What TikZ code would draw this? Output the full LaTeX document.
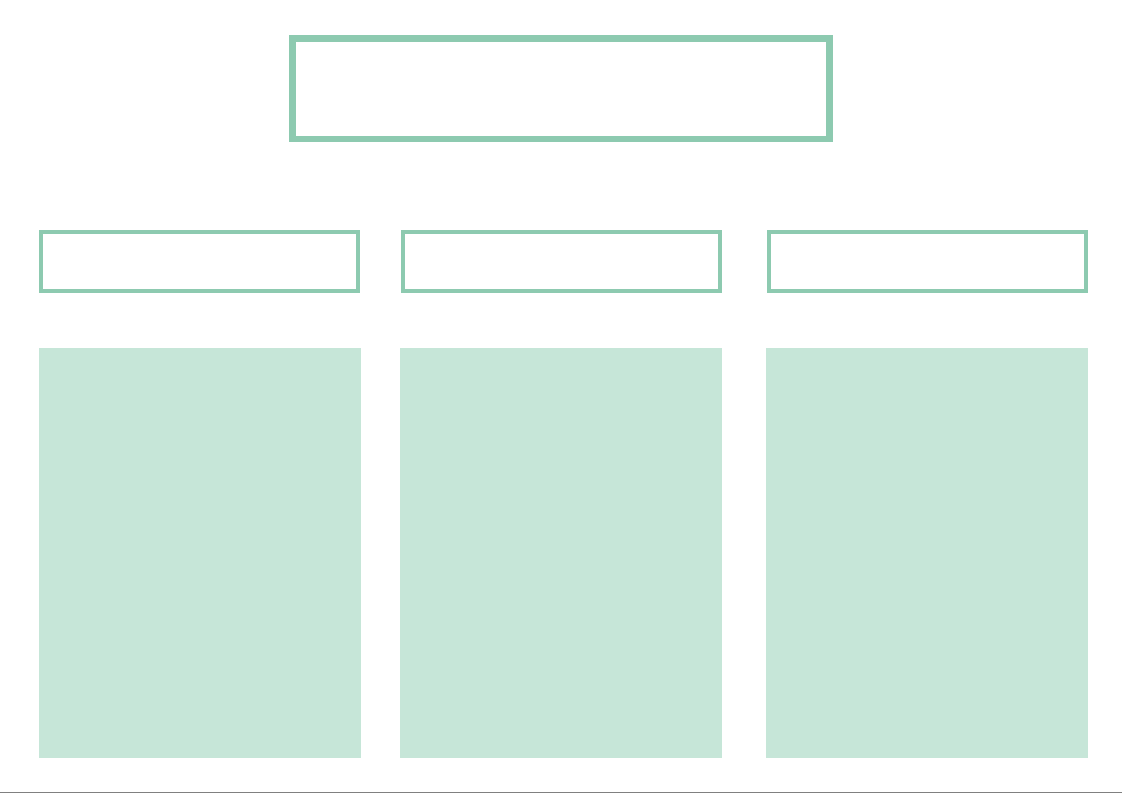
\documentclass[tikz,border=0pt]{standalone}
\usepackage{tikz}
\usetikzlibrary{positioning}
\definecolor{mintline}{HTML}{8DCAB0}
\definecolor{mintfill}{HTML}{C6E6D8}
\tikzset{
  titlebox/.style={draw=mintline,line width=6.5pt,minimum width=537pt,minimum height=100.5pt,inner sep=0pt},
  headbox/.style={draw=mintline,line width=4pt,minimum width=317pt,minimum height=58.5pt,inner sep=0pt},
  panelbox/.style={fill=mintfill,draw=none,minimum width=322pt,minimum height=410pt,inner sep=0pt}
}
\begin{document}
\begin{tikzpicture}[x=1pt,y=-1pt]
		\useasboundingbox (0,0) rectangle (1122,793);
		\node (title) at (561,88.75) [titlebox] {};
		\node (headA) at (199.5,261.25) [headbox] {};
		\node (headB) at (561.75,261.25) [headbox] {};
		\node (headC) at (927.5,261.25) [headbox] {};
		\node (panelA) at (200,553) [panelbox] {};
		\node (panelB) at (561,553) [panelbox] {};
		\node (panelC) at (927.25,553) [panelbox] {};
		\fill [gray] (0,791.5) rectangle (1122,793);
    \end{tikzpicture}
\end{document}
